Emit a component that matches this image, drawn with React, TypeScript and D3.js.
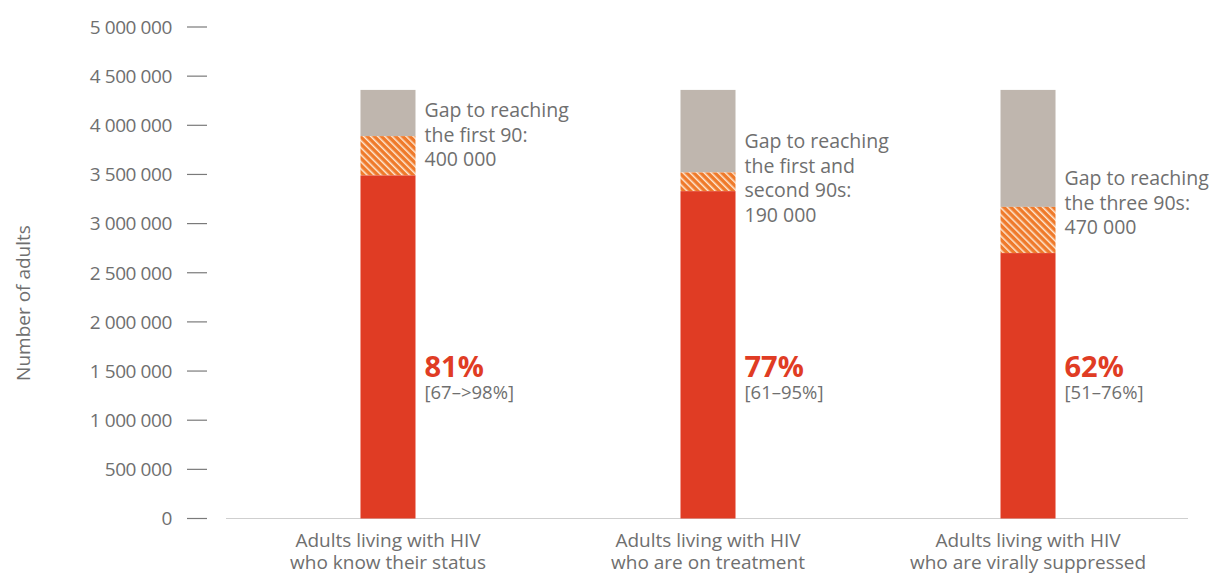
import React from "react";
import * as d3 from "d3";

const categories = [
  ["Adults living with HIV", "who know their status"],
  ["Adults living with HIV", "who are on treatment"],
  ["Adults living with HIV", "who are virally suppressed"],
];
const totalAdults = 4360000;
const achieved = [3490000, 3330000, 2700000];
const gaps = [400000, 190000, 470000];
const pctLabels = ["81%", "77%", "62%"];
const ciLabels = ["[67–>98%]", "[61–95%]", "[51–76%]"];
const gapLabels = [
  ["Gap to reaching", "the first 90:", "400 000"],
  ["Gap to reaching", "the first and", "second 90s:", "190 000"],
  ["Gap to reaching", "the three 90s:", "470 000"],
];
const yTicks = [0, 500000, 1000000, 1500000, 2000000, 2500000, 3000000, 3500000, 4000000, 4500000, 5000000];

const W = 1215;
const H = 574;
const FONT = "'Open Sans', Lato, sans-serif";
const TXT = "#6f6f6f";
const RED = "#e03c24";
const ORANGE = "#ef7a2b";
const GREY = "#bfb6ae";

export default function App() {
  const y = d3.scaleLinear().domain([0, 5000000]).range([518.5, 27]);
  const x = d3.scaleBand<number>().domain([0, 1, 2]).range([228, 1188]).paddingInner(0.8281).paddingOuter(0.414);
  const fmt = (v: number) => d3.format(",")(v).replace(/,/g, " ");
  const bw = x.bandwidth();
  const gapStart = [117, 148, 185];

  return (
    <svg width={W} height={H} style={{ position: "absolute", left: 0, top: 0, background: "#fff" }}>
      <defs>
        <pattern id="hatch" width="5" height="5" patternUnits="userSpaceOnUse" patternTransform="rotate(-45)">
          <rect width="5" height="5" fill={ORANGE} />
          <rect x="0" y="0" width="1.5" height="5" fill="#fde7d3" />
        </pattern>
      </defs>
      <text transform="translate(30,303) rotate(-90)" textAnchor="middle" fontFamily={FONT} fontSize={19} fill={TXT}>
        Number of adults
      </text>
      {yTicks.map((t) => (
        <g key={t}>
          <text x={172} y={y(t)} dy="0.36em" textAnchor="end" fontFamily={FONT} fontSize={19} fill={TXT} letterSpacing={-0.4}>
            {fmt(t)}
          </text>
          <line x1={187} x2={207} y1={y(t)} y2={y(t)} stroke="#7a7a7a" strokeWidth={1.2} />
        </g>
      ))}
      <line x1={226} x2={1188} y1={y(0)} y2={y(0)} stroke="#cfcfcf" strokeWidth={1} />
      {categories.map((c, i) => {
        const x0 = x(i)!;
        const cx = x0 + bw / 2;
        const lx = x0 + bw + 9;
        const top = achieved[i] + gaps[i];
        const gl = gapLabels[i];
        return (
          <g key={i}>
            <rect x={x0} width={bw} y={y(totalAdults)} height={y(top) - y(totalAdults)} fill={GREY} />
            <rect x={x0} width={bw} y={y(top)} height={y(achieved[i]) - y(top)} fill="url(#hatch)" />
            <rect x={x0} width={bw} y={y(achieved[i])} height={y(0) - y(achieved[i])} fill={RED} />
            {gl.map((l, k) => (
              <text key={k} x={lx} y={gapStart[i] + k * 24.7} fontFamily={FONT} fontSize={19.5} fill={TXT}>
                {l}
              </text>
            ))}
            <text x={lx} y={377} fontFamily={FONT} fontSize={29} fontWeight={700} fill={RED}>
              {pctLabels[i]}
            </text>
            <text x={lx} y={399} fontFamily={FONT} fontSize={18.5} fill={TXT}>
              {ciLabels[i]}
            </text>
            {c.map((l, k) => (
              <text key={k} x={cx} y={547 + k * 21.5} textAnchor="middle" fontFamily={FONT} fontSize={19} fill={TXT}>
                {l}
              </text>
            ))}
          </g>
        );
      })}
    </svg>
  );
}
